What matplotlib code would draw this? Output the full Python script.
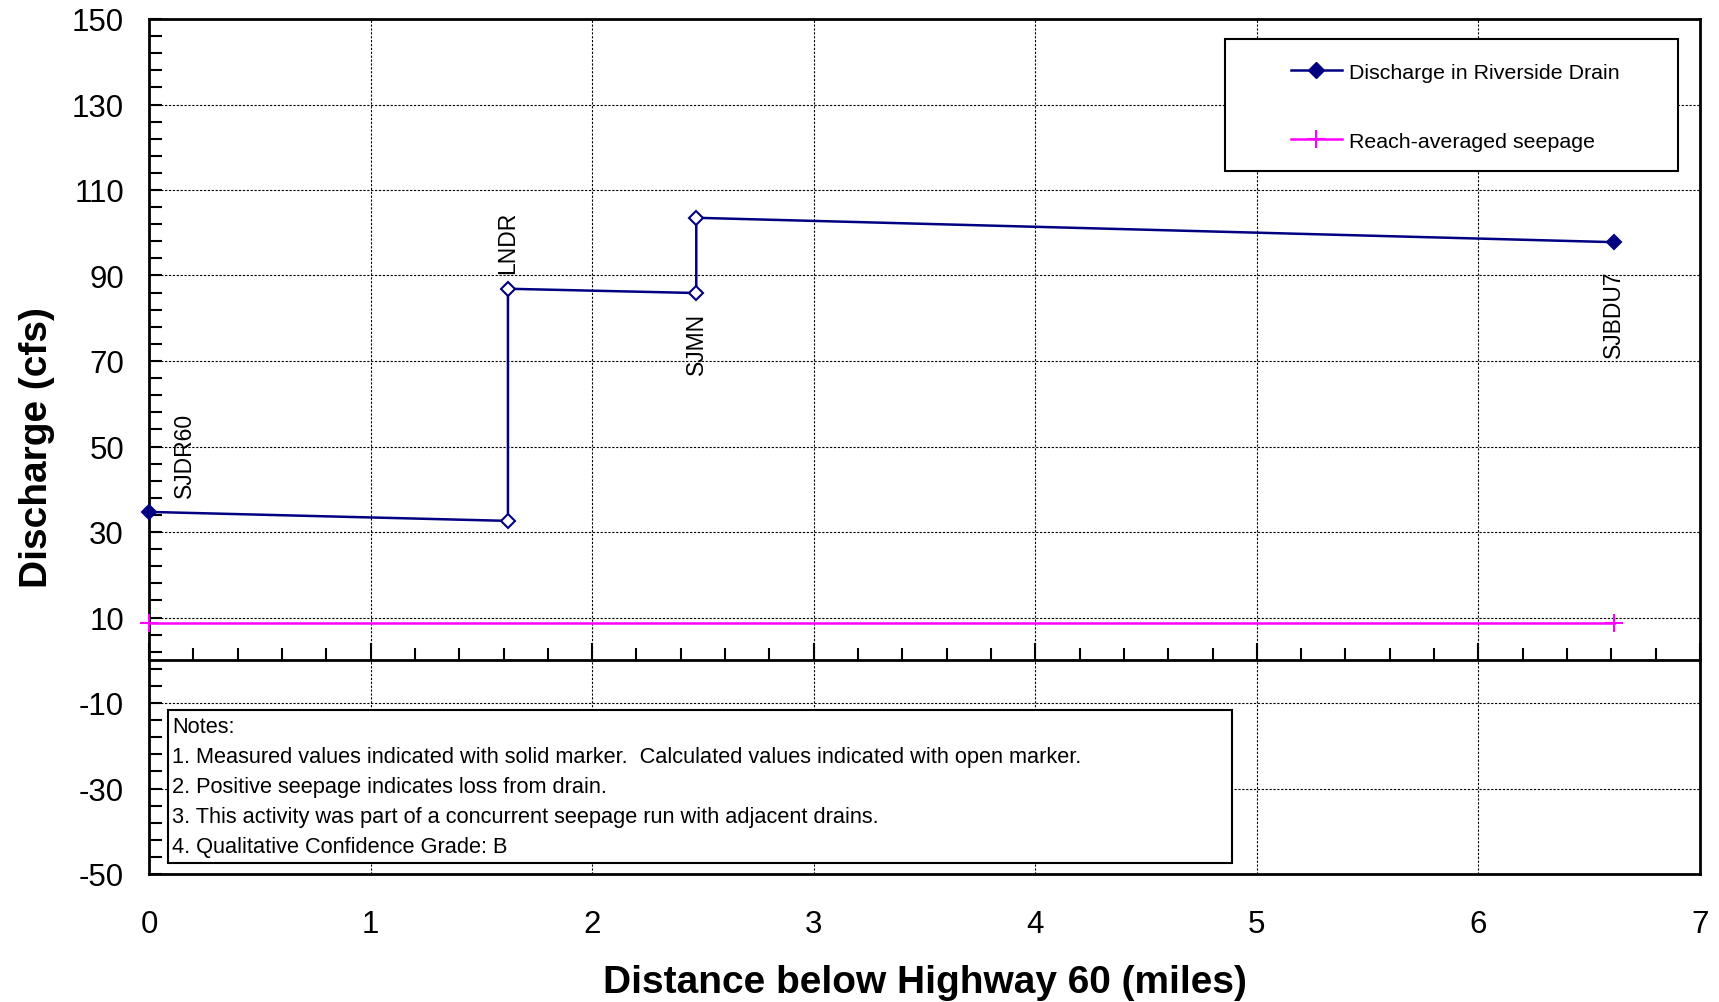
import matplotlib.pyplot as plt
import numpy as np
from matplotlib.patches import Rectangle
from matplotlib.ticker import MultipleLocator

plt.rcParams['font.family'] = ['Liberation Sans', 'DejaVu Sans']
plt.rcParams['axes.unicode_minus'] = False

# DATA
dist = [0.0, 1.62, 1.62, 2.47, 2.47, 6.61]
discharge = [34.7, 32.6, 86.9, 85.9, 103.5, 97.8]
measured = [True, False, False, False, False, True]

seep_x = [0.0, 6.61]
seep_y = [8.7, 8.7]

stations = ['SJDR60', 'LNDR', 'SJMN', 'SJBDU7']
station_x = [0.0, 1.62, 2.47, 6.61]
station_y = [34.7, 86.9, 85.9, 97.8]

notes = ['Notes:',
         '1. Measured values indicated with solid marker.  Calculated values indicated with open marker.',
         '2. Positive seepage indicates loss from drain.',
         '3. This activity was part of a concurrent seepage run with adjacent drains.',
         '4. Qualitative Confidence Grade: B']

navy = '#000080'

fig = plt.figure(figsize=(17.19, 10.03), dpi=100)
ax = fig.add_axes([149 / 1719, 1 - 875 / 1003, (1700 - 149) / 1719, (875 - 20) / 1003])

# discharge line
ax.plot(dist, discharge, color=navy, lw=1.8, zorder=3)
for x, y, m in zip(dist, discharge, measured):
    ax.plot(x, y, marker='D', ms=7, mec=navy, mew=1.5,
            mfc=navy if m else 'white', zorder=4, clip_on=False)
# legend proxy
ax.plot([], [], color=navy, lw=1.8, marker='D', ms=8, mfc=navy, mec=navy,
        label='Discharge in Riverside Drain')

ax.plot(seep_x, seep_y, color='#ff00ff', lw=1.8, marker='+', ms=13, mew=1.5,
        clip_on=False, zorder=3, label='Reach-averaged seepage')

# station labels
ax.text(station_x[0] + 0.16, station_y[0] + 3.5, stations[0], rotation=90,
        ha='center', va='bottom', fontsize=16.5)
ax.text(station_x[1], station_y[1] + 3.8, stations[1], rotation=90,
        ha='center', va='bottom', fontsize=16.5)
ax.text(station_x[2], station_y[2] - 4.5, stations[2], rotation=90,
        ha='center', va='top', fontsize=16.5)
ax.text(station_x[3], station_y[3] - 6.5, stations[3], rotation=90,
        ha='center', va='top', fontsize=16.5)

ax.set_xlim(0, 7)
ax.set_ylim(-50, 150)
ax.xaxis.set_major_locator(MultipleLocator(1))
ax.set_yticks(np.arange(-50, 151, 20))
ax.set_yticks(np.arange(-50, 151, 4), minor=True)

ax.grid(True, which='major', color='black', lw=0.8, ls=(0, (2, 1.5)))
ax.tick_params(axis='y', which='both', direction='in', length=9, width=1.5,
               labelsize=22.5, pad=18, right=False)
ax.tick_params(axis='x', which='both', length=0, labelsize=22.5, pad=25)
for s in ax.spines.values():
    s.set_linewidth(2)

# zero line carrying the x ticks
sec = ax.secondary_xaxis(0.25)
sec.xaxis.set_major_locator(MultipleLocator(1))
sec.xaxis.set_minor_locator(MultipleLocator(0.2))
sec.tick_params(which='major', direction='in', length=12, width=1.5, labelbottom=False)
sec.tick_params(which='minor', direction='in', length=9, width=1.5)
sec.spines['bottom'].set_linewidth(2)

ax.set_xlabel('Distance below Highway 60 (miles)', fontsize=28, fontweight='bold', labelpad=18)
ax.set_ylabel('Discharge (cfs)', fontsize=28, fontweight='bold', labelpad=12)

# legend frame and entries
ax.add_patch(Rectangle((0.694, 0.822), 0.292, 0.155, transform=ax.transAxes,
                       facecolor='white', edgecolor='black', lw=1.5, zorder=5))
leg = ax.legend(loc='upper left', bbox_to_anchor=(0.736, 0.949),
                fontsize=15.4, frameon=False, labelspacing=2.35,
                handlelength=2.4, handletextpad=0.35,
                borderpad=0, borderaxespad=0)
leg.set_zorder(6)

# notes box
ax.add_patch(Rectangle((0.012, 0.013), 0.686, 0.179, transform=ax.transAxes,
                       fill=True, facecolor='white', edgecolor='black', lw=1.5, zorder=5))
for i, line in enumerate(notes):
    ax.text(0.015, 0.173 - i * 0.0352, line, transform=ax.transAxes,
            fontsize=15.7, va='center', ha='left', zorder=6)

fig.savefig('out.png', dpi=100)
